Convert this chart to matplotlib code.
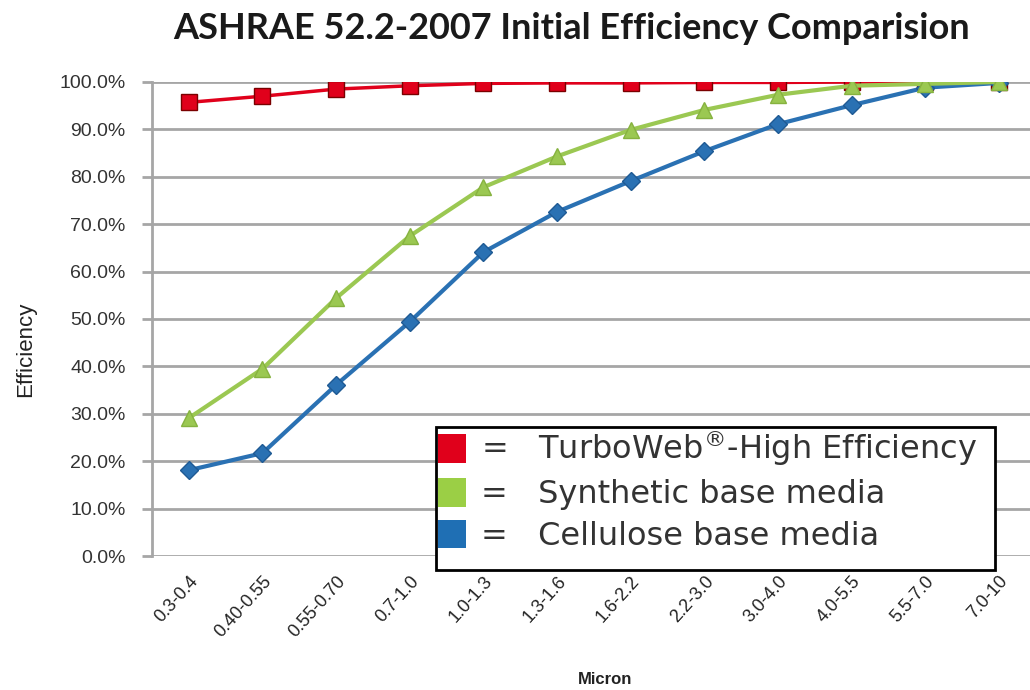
import matplotlib

matplotlib.use("Agg")
import matplotlib.pyplot as plt
from matplotlib.patches import Patch, Rectangle
from matplotlib.transforms import IdentityTransform
from matplotlib.ticker import FuncFormatter

# Particle size ranges (micron) and initial efficiency (%)
sizes = ["0.3-0.4", "0.40-0.55", "0.55-0.70", "0.7-1.0", "1.0-1.3", "1.3-1.6",
         "1.6-2.2", "2.2-3.0", "3.0-4.0", "4.0-5.5", "5.5-7.0", "7.0-10"]
turboweb = [95.7, 97.0, 98.5, 99.2, 99.7, 99.8, 99.8, 99.9, 99.9, 100.0, 100.0, 100.0]
synthetic = [29.1, 39.5, 54.4, 67.5, 77.8, 84.3, 89.9, 94.1, 97.3, 99.2, 99.6, 100.0]
cellulose = [18.1, 21.7, 36.1, 49.4, 64.1, 72.6, 79.1, 85.4, 91.1, 95.1, 98.8, 99.8]

RED = "#e0001b"
GREEN = "#9bc852"
BLUE = "#2a71b3"

fig = plt.figure(figsize=(10.3, 6.9), dpi=100)
ax = fig.add_axes([0.1476, 0.1942, 0.858, 0.687])

x = list(range(len(sizes)))
ax.plot(x, cellulose, color=BLUE, linewidth=3, marker="D", markersize=9,
        markerfacecolor=BLUE, markeredgecolor="#1f5a94", zorder=3)
ax.plot(x, synthetic, color=GREEN, linewidth=3, marker="^", markersize=11,
        markerfacecolor=GREEN, markeredgecolor="#86b23f", zorder=4)
ax.plot(x, turboweb, color=RED, linewidth=2.5, marker="s", markersize=12,
        markerfacecolor=RED, markeredgecolor="#7a0000", zorder=2)

ax.set_xlim(-0.5, 11.5)
ax.set_ylim(0, 100)
ax.set_yticks(range(0, 101, 10))
ax.yaxis.set_major_formatter(FuncFormatter(lambda v, p: f"{v:.1f}%"))
ax.grid(axis="y", color="#a6a6a6", linewidth=2)
ax.set_axisbelow(True)
for side in ("top", "right", "bottom"):
    ax.spines[side].set_visible(False)
ax.spines["left"].set_color("#a6a6a6")
ax.spines["left"].set_linewidth(2)
ax.tick_params(axis="y", length=7, width=2, color="#a6a6a6", labelsize=14,
               labelcolor="#333333", pad=12)
ax.tick_params(axis="x", length=0, labelsize=13, labelcolor="#222222", pad=12)
ax.set_xticks(x)
ax.set_xticklabels(sizes, rotation=48, ha="right", rotation_mode="anchor")
for lbl in ax.get_yticklabels() + ax.get_xticklabels():
    lbl.set_family("Liberation Sans")

ax.set_ylabel("Efficiency", fontsize=16, family="Liberation Sans", color="#222222")
ax.yaxis.set_label_coords(-0.131, 0.435)
fig.text(0.587, 0.004, "Micron", fontsize=12, fontweight="bold",
         family="Liberation Sans", ha="center", va="bottom", color="#222222")

fig.suptitle("ASHRAE 52.2-2007 Initial Efficiency Comparision", x=0.555, y=0.982,
             fontsize=26, fontweight="bold", family="Lato", va="top",
             color="#1a1a1a")

handles = [
    Patch(facecolor=RED, edgecolor="none"),
    Patch(facecolor="#9bcf45", edgecolor="none"),
    Patch(facecolor="#1f6fb4", edgecolor="none"),
]
labels = ["=   TurboWeb$^{\u00ae}$-High Efficiency", "=   Synthetic base media",
          "=   Cellulose base media"]
leg = ax.legend(handles, labels, loc="upper left", bbox_to_anchor=(0.3215, 0.272),
                prop={"family": "DejaVu Sans", "size": 23}, frameon=False,
                handlelength=0.9, handleheight=1.0, handletextpad=0.45,
                borderpad=0.05, labelspacing=0.3, borderaxespad=0)
leg.set_zorder(6)
for t in leg.get_texts():
    t.set_color("#333333")

# white box around the legend, with extra room under the last row
fig.canvas.draw()
bb = leg.get_window_extent()
extra = 16
box = Rectangle((bb.x0, bb.y0 - extra), bb.width + 16, bb.height + extra,
                facecolor="white", edgecolor="black", linewidth=2, zorder=5.5,
                clip_on=False)
ax.add_artist(box)
box.set_transform(IdentityTransform())

fig.savefig("out.png", dpi=100)
